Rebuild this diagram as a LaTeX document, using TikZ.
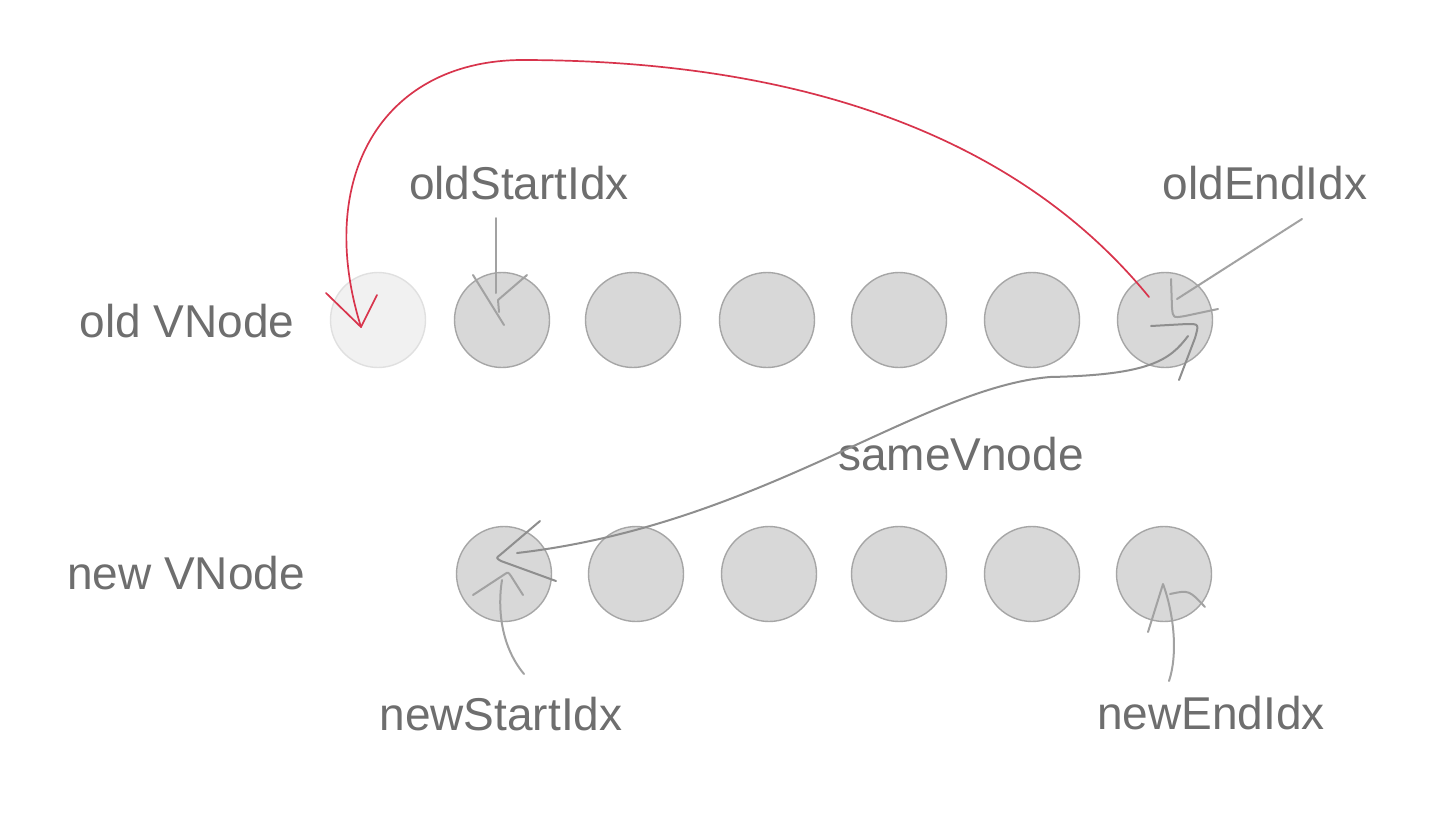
\documentclass[tikz,border=0pt]{standalone}
\usepackage{fontspec}
\setmainfont{Liberation Sans}
\usetikzlibrary{calc}
\definecolor{redline}{HTML}{D8344C}
\definecolor{ptrgrey}{HTML}{A2A2A2}
\definecolor{curvegrey}{HTML}{8E8E8E}
\definecolor{txtgrey}{HTML}{6E6E6E}
\definecolor{ballfill}{HTML}{D8D8D8}
\definecolor{balledge}{HTML}{A6A6A6}
\definecolor{ghostfill}{HTML}{F1F1F1}
\definecolor{ghostedge}{HTML}{E0E0E0}
\begin{document}
\begin{tikzpicture}[x=0.5pt,y=-0.5pt,
  ball/.style={circle,minimum size=47.5pt,inner sep=0pt,fill=ballfill,draw=balledge,line width=0.7pt},
  ghost/.style={ball,fill=ghostfill,draw=ghostedge},
  lbl/.style={text=txtgrey,font=\fontsize{23}{27}\selectfont,anchor=base,inner sep=0pt},
  ptr/.style={draw=ptrgrey,line width=1pt,line cap=round,line join=round},
  samecurve/.style={draw=curvegrey,line width=1pt,line cap=round,line join=round},
  redarrow/.style={draw=redline,line width=0.85pt,line cap=round,line join=round}]
\useasboundingbox[fill=white] (0,0) rectangle (1450,814);

% row labels
\node[lbl] (rowOld) at (187,337) {old VNode};
\node[lbl] (rowNew) at (186,589) {new VNode};

% old vnodes
\node[ghost] (o1) at (378,320) {};
\node[ball] (o2) at (502,320) {};
\node[ball] (o3) at (633,320) {};
\node[ball] (o4) at (767,320) {};
\node[ball] (o5) at (899,320) {};
\node[ball] (o6) at (1032,320) {};
\node[ball] (o7) at (1165,320) {};

% new vnodes
\node[ball] (n1) at (504,574) {};
\node[ball] (n2) at (636,574) {};
\node[ball] (n3) at (769,574) {};
\node[ball] (n4) at (899,574) {};
\node[ball] (n5) at (1032,574) {};
\node[ball] (n6) at (1164,574) {};

% index labels
\node[lbl] (tOS) at (519,199) {oldStartIdx};
\node[lbl] (tOE) at (1265,199) {oldEndIdx};
\node[lbl] (tSV) at (961,470) {sameVnode};
\node[lbl] (tNS) at (501,730) {newStartIdx};
\node[lbl] (tNE) at (1211,729) {newEndIdx};

% oldStartIdx pointer
\coordinate (osA) at ($(tOS.base)+(-23,19)$);
\draw[ptr] (osA) -- ($(o2)+(-6,-27)$);
\draw[ptr] ($(o2)+(-29,-45)$) -- ($(o2)+(2,5)$);
\draw[ptr] ($(o2)+(25,-45)$) -- ($(o2)+(-4,-20)$) -- ($(o2)+(-3,-8)$);

% oldEndIdx pointer
\coordinate (oeA) at ($(tOE.base)+(37,20)$);
\draw[ptr] (oeA) -- ($(o7)+(12,-21)$);
\draw[ptr] ($(o7)+(6,-41)$) -- ($(o7)+(7,-12)$) .. controls ($(o7)+(8,-2)$) .. ($(o7)+(20,-4)$) -- ($(o7)+(53,-11)$);

% newStartIdx pointer
\coordinate (nsA) at ($(tNS.base)+(23,-56)$);
\draw[ptr] (nsA) .. controls ($(n1)+(-5,70)$) and ($(n1)+(-6,30)$) .. ($(n1)+(-2,6)$);
\draw[ptr] ($(n1)+(-31,21)$) -- ($(n1)+(1,0)$) .. controls ($(n1)+(4,-2)$) .. ($(n1)+(7,2)$) -- ($(n1)+(19,21)$);

% newEndIdx pointer
\coordinate (neA) at ($(tNE.base)+(-42,-48)$);
\draw[ptr] (neA) .. controls ($(n6)+(14,80)$) and ($(n6)+(10,40)$) .. ($(n6)+(-1,10)$) -- ($(n6)+(-16,58)$);
\draw[ptr] ($(n6)+(6,20)$) .. controls ($(n6)+(25,16)$) .. ($(n6)+(41,33)$);

% sameVnode link between newStartIdx and oldEndIdx
\draw[samecurve] ($(n1)+(13,-21)$) .. controls (760,525) and (920,388) .. (1050,377)
  .. controls (1150,375) and (1170,360) .. ($(o7)+(23,16)$);
\draw[samecurve] ($(n1)+(36,-53)$) -- ($(n1)+(-4,-19)$) .. controls ($(n1)+(-8,-16)$) .. ($(n1)+(-3,-13)$) -- ($(n1)+(52,7)$);
\draw[samecurve] ($(o7)+(-14,6)$) -- ($(o7)+(22,4)$) .. controls ($(o7)+(34,4)$) .. ($(o7)+(30,18)$) -- ($(o7)+(14,60)$);

% oldEndIdx node moved before oldStartIdx
\coordinate (redS) at ($(o7)+(-16,-23)$);
\coordinate (redE) at ($(o1)+(-17,7)$);
\draw[redarrow] (redS) .. controls (980,90) and (700,60) .. (520,60)
  .. controls (380,62) and (315,180) .. (redE);
\draw[redarrow] ($(redE)+(-35,-34)$) -- (redE) -- ($(redE)+(16,-32)$);
\end{tikzpicture}
\end{document}
